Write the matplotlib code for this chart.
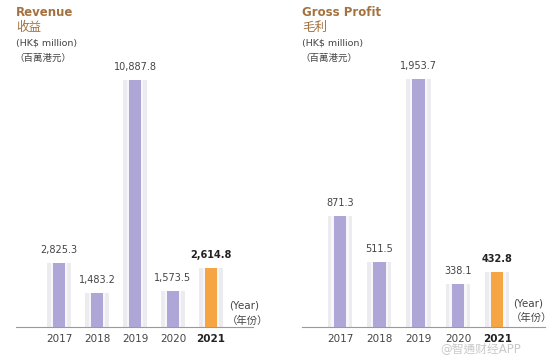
import matplotlib.pyplot as plt

plt.rcParams['font.family'] = ['DejaVu Sans', 'Noto Sans CJK TC']

years = ['2017', '2018', '2019', '2020', '2021']
revenue = [2825.3, 1483.2, 10887.8, 1573.5, 2614.8]
gross_profit = [871.3, 511.5, 1953.7, 338.1, 432.8]
revenue_labels = ['2,825.3', '1,483.2', '10,887.8', '1,573.5', '2,614.8']
gp_labels = ['871.3', '511.5', '1,953.7', '338.1', '432.8']

W, H = 554, 356
PURPLE = '#ada6d6'
ORANGE = '#f6a545'
HALO = '#ebebf0'
BROWN = '#a3723f'
GREY = '#444444'


def px(x, y):
    return x / W, 1 - y / H


def draw_panel(ax, values, labels, ymax, xmin, xmax):
    x = list(range(len(values)))
    colors = [PURPLE] * (len(values) - 1) + [ORANGE]
    ax.bar(x, values, width=0.62, color=HALO, zorder=1)
    ax.bar(x, values, width=0.44, color='#f7f7fa', zorder=2)
    ax.bar(x, values, width=0.32, color=colors, zorder=3)
    for i, (v, lab) in enumerate(zip(values, labels)):
        last = i == len(values) - 1
        ax.text(i, v + ymax * 0.03, lab, ha='center', va='bottom', fontsize=7,
                color='#222222' if last else GREY,
                fontweight='bold' if last else 'normal')
    ax.set_xlim(xmin, xmax)
    ax.set_ylim(0, ymax)
    ax.set_xticks(x)
    ax.set_xticklabels(years, fontsize=7.5, color=GREY)
    ax.get_xticklabels()[-1].set_fontweight('bold')
    ax.get_xticklabels()[-1].set_color('#222222')
    ax.tick_params(axis='x', length=0, pad=5)
    ax.set_yticks([])
    for s in ['top', 'right', 'left']:
        ax.spines[s].set_visible(False)
    ax.spines['bottom'].set_color('#9a9a9a')
    ax.spines['bottom'].set_linewidth(0.8)


fig = plt.figure(figsize=(W / 100, H / 100), dpi=100)

base = 327
top = 60
ax1 = fig.add_axes([16 / W, (H - base) / H, (253 - 16) / W, (base - top) / H])
draw_panel(ax1, revenue, revenue_labels, 11770, (16 - 59) / 38, (253 - 59) / 38)

ax2 = fig.add_axes([302 / W, (H - base) / H, (545 - 302) / W, (base - top) / H])
draw_panel(ax2, gross_profit, gp_labels, 2103, (302 - 340) / 39.3, (545 - 340) / 39.3)

# headings
for x0, t1, t2 in [(16, 'Revenue', '收益'), (302, 'Gross Profit', '毛利')]:
    fig.text(*px(x0, 12), t1, fontsize=8.5, fontweight='bold', color=BROWN, va='center')
    fig.text(*px(x0, 27), t2, fontsize=9, color=BROWN, va='center')
    fig.text(*px(x0, 43), '(HK$ million)', fontsize=6.8, color=GREY, va='center')
    fig.text(*px(x0 - 2, 58), '（百萬港元）', fontsize=6.8, color=GREY, va='center')

for x0, y0 in [(229, 306), (513, 303)]:
    fig.text(*px(x0, y0), '(Year)', fontsize=7.5, color=GREY, va='center')
    fig.text(*px(x0 - 2, y0 + 15), '（年份）', fontsize=7.5, color=GREY, va='center')

fig.text(*px(440, 349), '@智通财经APP', fontsize=8.5, color='#bbbbbb', alpha=0.8, va='center')

fig.savefig('out.png', dpi=100, facecolor='white')
